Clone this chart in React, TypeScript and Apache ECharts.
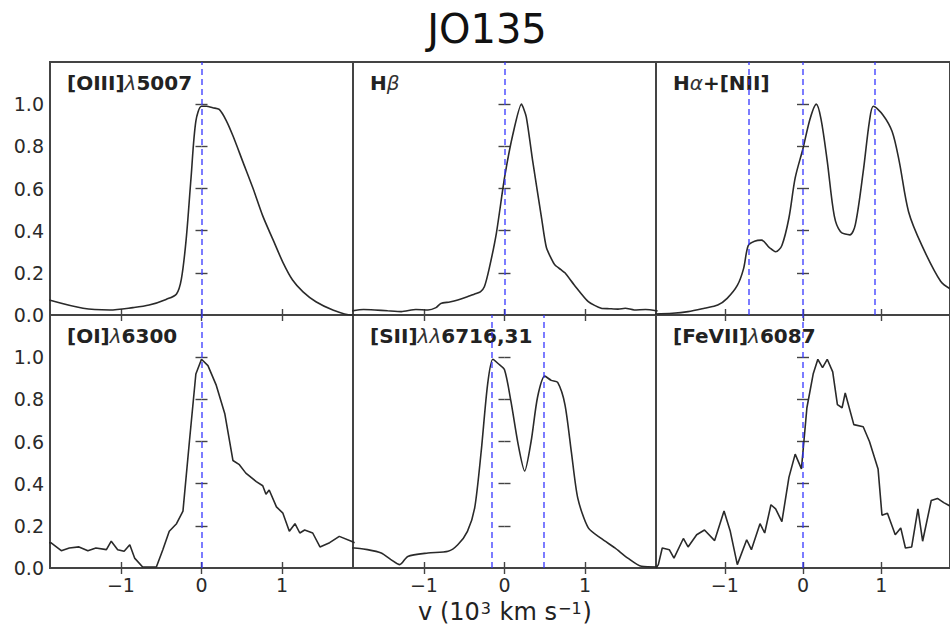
import React, { useEffect, useRef } from 'react';
import * as echarts from 'echarts';

const FONT = 'DejaVu Sans';

const titleText = 'JO135';
const xAxisTitleParts: [string, string][] = [['m', 'v (10'], ['s', '3'], ['m', ' km s'], ['s', '−1'], ['m', ')']];
const xTickValues = [-1, 0, 1];
const yLabelValues = [0, 0.2, 0.4, 0.6, 0.8, 1.0];
const yTickValues = [0.2, 0.4, 0.6, 0.8, 1.0];
const xRange = [-1.88, 1.88];
const yRange = [0, 1.2];

// [OIII] 5007
const oiiiV = [-1.89, -1.47, -1.14, -0.85, -0.65, -0.44, -0.31, -0.25, -0.19, -0.13, -0.07, 0, 0.06, 0.14, 0.22, 0.31, 0.39, 0.51, 0.64, 0.76, 0.89, 1.01, 1.13, 1.26, 1.42, 1.63, 1.86, 1.9];
const oiiiF = [0.071, 0.032, 0.024, 0.035, 0.047, 0.074, 0.1, 0.17, 0.36, 0.65, 0.92, 0.99, 0.99, 0.983, 0.975, 0.92, 0.85, 0.73, 0.6, 0.47, 0.355, 0.25, 0.166, 0.11, 0.063, 0.024, 0.0, 0.0];
const oiiiLines = [0];

// Hbeta
const hbV = [-1.9, -1.75, -1.61, -1.45, -1.28, -1.1, -0.95, -0.85, -0.79, -0.68, -0.58, -0.47, -0.37, -0.3, -0.25, -0.19, -0.1, 0, 0.1, 0.21, 0.27, 0.35, 0.46, 0.52, 0.62, 0.7, 0.75, 0.87, 1.04, 1.2, 1.3, 1.41, 1.5, 1.61, 1.75, 1.9];
const hbF = [0.019, 0.026, 0.024, 0.02, 0.016, 0.026, 0.024, 0.035, 0.055, 0.062, 0.071, 0.085, 0.1, 0.11, 0.134, 0.22, 0.39, 0.65, 0.85, 1.0, 0.94, 0.73, 0.46, 0.32, 0.24, 0.215, 0.2, 0.14, 0.063, 0.032, 0.03, 0.028, 0.032, 0.024, 0.026, 0.019];
const hbLines = [0];

// Halpha + [NII]
const haV = [-1.9, -1.67, -1.47, -1.26, -1.09, -0.97, -0.84, -0.76, -0.7, -0.62, -0.53, -0.43, -0.35, -0.27, -0.18, -0.1, 0, 0.09, 0.17, 0.23, 0.31, 0.4, 0.48, 0.6, 0.67, 0.77, 0.85, 0.9, 1.02, 1.14, 1.23, 1.35, 1.52, 1.76, 1.9];
const haF = [0.005, 0.008, 0.016, 0.032, 0.047, 0.079, 0.14, 0.22, 0.33, 0.35, 0.355, 0.32, 0.3, 0.33, 0.46, 0.65, 0.79, 0.93, 1.0, 0.93, 0.73, 0.47, 0.395, 0.38, 0.43, 0.68, 0.92, 0.99, 0.95, 0.87, 0.73, 0.49, 0.33, 0.16, 0.12];
const haLines = [-0.7, 0, 0.92];

// [OI] 6300
const oiV = [-1.9, -1.87, -1.74, -1.64, -1.52, -1.41, -1.31, -1.18, -1.12, -1.04, -0.96, -0.89, -0.83, -0.73, -0.56, -0.48, -0.4, -0.31, -0.23, -0.15, -0.07, 0, 0.08, 0.18, 0.29, 0.39, 0.47, 0.55, 0.68, 0.76, 0.8, 0.84, 0.93, 1.01, 1.09, 1.16, 1.22, 1.28, 1.38, 1.47, 1.59, 1.71, 1.86, 1.9];
const oiF = [0.12, 0.12, 0.082, 0.095, 0.1, 0.082, 0.095, 0.087, 0.127, 0.087, 0.079, 0.11, 0.047, 0.005, 0.005, 0.087, 0.174, 0.21, 0.27, 0.6, 0.92, 0.99, 0.96, 0.87, 0.73, 0.51, 0.49, 0.45, 0.41, 0.39, 0.35, 0.37, 0.29, 0.26, 0.174, 0.21, 0.166, 0.18, 0.166, 0.1, 0.12, 0.15, 0.127, 0.12];
const oiLines = [0];

// [SII] 6716,31
const siiV = [-1.9, -1.86, -1.7, -1.53, -1.41, -1.3, -1.2, -0.95, -0.7, -0.58, -0.46, -0.37, -0.29, -0.21, -0.145, -0.08, 0, 0.08, 0.17, 0.25, 0.33, 0.41, 0.5, 0.58, 0.66, 0.75, 0.83, 0.91, 1.04, 1.2, 1.37, 1.53, 1.7, 1.9];
const siiF = [0.095, 0.095, 0.087, 0.071, 0.04, 0.016, 0.055, 0.071, 0.079, 0.11, 0.174, 0.285, 0.55, 0.87, 0.99, 0.97, 0.94, 0.79, 0.585, 0.46, 0.6, 0.81, 0.91, 0.89, 0.88, 0.775, 0.55, 0.33, 0.19, 0.14, 0.095, 0.047, 0.008, 0.005];
const siiLines = [-0.16, 0.49];

// [FeVII] 6087
const fevV = [-1.88, -1.85, -1.8, -1.71, -1.65, -1.53, -1.47, -1.36, -1.26, -1.13, -1.01, -0.93, -0.84, -0.72, -0.66, -0.55, -0.49, -0.41, -0.35, -0.27, -0.18, -0.1, -0.02, 0.05, 0.13, 0.19, 0.25, 0.31, 0.38, 0.44, 0.5, 0.54, 0.65, 0.77, 0.85, 0.96, 1.01, 1.08, 1.18, 1.25, 1.31, 1.39, 1.47, 1.53, 1.64, 1.72, 1.8, 1.9];
const fevF = [0.0, 0.016, 0.095, 0.087, 0.047, 0.14, 0.1, 0.158, 0.18, 0.13, 0.27, 0.174, 0.016, 0.134, 0.087, 0.21, 0.166, 0.3, 0.28, 0.22, 0.43, 0.54, 0.47, 0.76, 0.92, 0.99, 0.95, 0.99, 0.93, 0.775, 0.76, 0.83, 0.68, 0.67, 0.6, 0.47, 0.25, 0.26, 0.158, 0.19, 0.095, 0.1, 0.28, 0.127, 0.32, 0.33, 0.31, 0.29];
const fevLines = [0];

type Seg = [string, string];
const oiiiLabel: Seg[] = [['b', '[OIII]'], ['l', 'λ'], ['b', '5007']];
const hbLabel: Seg[] = [['b', 'H'], ['l', 'β']];
const haLabel: Seg[] = [['b', 'H'], ['l', 'α'], ['b', '+[NII]']];
const oiLabel: Seg[] = [['b', '[OI]'], ['l', 'λ'], ['b', '6300']];
const siiLabel: Seg[] = [['b', '[SII]'], ['l', 'λλ'], ['b', '6716,31']];
const fevLabel: Seg[] = [['b', '[FeVII]'], ['l', 'λ'], ['b', '6087']];

const panels = [
  { v: oiiiV, f: oiiiF, lines: oiiiLines, label: oiiiLabel, smooth: 0.3 },
  { v: hbV, f: hbF, lines: hbLines, label: hbLabel, smooth: 0.2 },
  { v: haV, f: haF, lines: haLines, label: haLabel, smooth: 0.3 },
  { v: oiV, f: oiF, lines: oiLines, label: oiLabel, smooth: false },
  { v: siiV, f: siiF, lines: siiLines, label: siiLabel, smooth: 0.25 },
  { v: fevV, f: fevF, lines: fevLines, label: fevLabel, smooth: false },
];

const colLefts = [50, 353, 656];
const rowTops = [62, 315];
const PW = 303;
const PH = 253;

function fmtX(v: number) {
  const s = String(Math.round(v));
  return s.replace('-', '\u2212');
}

export default function App() {
  const ref = useRef<HTMLDivElement>(null);
  useEffect(() => {
    if (!ref.current) return;
    const chart = echarts.init(ref.current, null, { renderer: 'svg' });
    const grid: any[] = [];
    const xAxis: any[] = [];
    const yAxis: any[] = [];
    const series: any[] = [];
    const graphic: any[] = [];
    const tickStyle = { color: '#444', width: 1.4 };
    const labelStyle = { fontSize: 19, color: '#2a2a2a', fontFamily: FONT };
    panels.forEach((p, i) => {
      const r = Math.floor(i / 3);
      const c = i % 3;
      const left = colLefts[c];
      const top = rowTops[r];
      grid.push({ left, top, width: PW, height: PH, show: true, borderColor: '#444', borderWidth: 2, backgroundColor: 'transparent' });
      const xBase = {
        gridIndex: i, type: 'value', min: xRange[0], max: xRange[1],
        axisLine: { show: false }, splitLine: { show: false },
        axisTick: { show: true, inside: true, length: 6, customValues: xTickValues, lineStyle: tickStyle },
      };
      xAxis.push({
        ...xBase, position: 'bottom',
        axisLabel: { show: r === 1, customValues: xTickValues, formatter: fmtX, margin: 7, ...labelStyle },
      });
      xAxis.push({ ...xBase, position: 'top', axisLabel: { show: false } });
      const yBase = {
        gridIndex: i, type: 'value', min: yRange[0], max: yRange[1],
        axisLine: { show: false }, splitLine: { show: false },
        axisTick: { show: true, inside: true, length: 6, customValues: yTickValues, lineStyle: tickStyle },
      };
      yAxis.push({
        ...yBase, position: 'left',
        axisLabel: { show: c === 0, customValues: yLabelValues, formatter: (v: number) => v.toFixed(1), margin: 6, ...labelStyle },
      });
      yAxis.push({ ...yBase, position: 'right', axisLabel: { show: false } });
      series.push({
        type: 'line', xAxisIndex: 2 * i, yAxisIndex: 2 * i,
        data: p.v.map((x, k) => [x, p.f[k]]),
        showSymbol: false, symbol: 'none', smooth: p.smooth,
        lineStyle: { color: '#2a2a2a', width: 1.6 },
        markLine: {
          silent: true, symbol: 'none', label: { show: false },
          lineStyle: { color: 'rgba(50,50,255,0.75)', type: [6, 4], width: 1.7 },
          data: p.lines.map((v) => ({ xAxis: v })),
        },
      });
      graphic.push({
        type: 'text', x: left + 17, y: top + 21,
        style: {
          text: p.label.map(([s, t]) => `{${s}|${t}}`).join(''),
          textVerticalAlign: 'middle',
          rich: {
            b: { fontFamily: FONT, fontWeight: 'bold', fontSize: 20, fill: '#222' },
            l: { fontFamily: FONT, fontStyle: 'italic', fontWeight: 'normal', fontSize: 20, fill: '#333' },
          },
        },
      });
    });
    graphic.push({
      type: 'text', x: 487, y: 29,
      style: { text: titleText, fontFamily: FONT, fontSize: 40, fill: '#111', textAlign: 'center', textVerticalAlign: 'middle' },
    });
    graphic.push({
      type: 'text', x: 505, y: 612,
      style: {
        text: xAxisTitleParts.map(([s, t]) => `{${s}|${t}}`).join(''),
        textAlign: 'center', textVerticalAlign: 'middle',
        rich: {
          m: { fontFamily: FONT, fontSize: 24, fill: '#222' },
          s: { fontFamily: FONT, fontSize: 16, fill: '#222', verticalAlign: 'top', padding: [0, 1, 8, 1] },
        },
      },
    });
    chart.setOption({ animation: false, backgroundColor: '#fff', grid, xAxis, yAxis, series, graphic });
    return () => chart.dispose();
  }, []);
  return <div ref={ref} style={{ position: 'absolute', left: 0, top: 0, width: 950, height: 627, overflow: 'hidden' }} />;
}
